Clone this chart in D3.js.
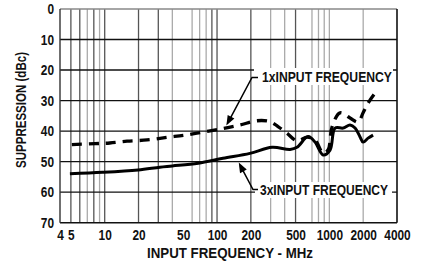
<!DOCTYPE html>
<html><head><meta charset="utf-8">
<script src="https://cdn.jsdelivr.net/npm/d3@7"></script>
<style>
body{margin:0;background:#fff}
svg{display:block}
text{font-family:"Liberation Sans","Arial",sans-serif;font-weight:bold;fill:#111}
</style>
</head><body><svg id="c" width="434" height="267"></svg>
<script>
// ---- data ----
const yTicks = [0, 10, 20, 30, 40, 50, 60, 70];
const xTickLabels = [4, 5, 10, 20, 50, 100, 200, 500, 1000, 2000, 4000];
const xGrid = [5, 6, 7, 8, 9, 10, 20, 30, 40, 60, 70, 80, 90, 100, 200, 300, 400, 500, 700, 800, 900, 1000, 2000];
const xGridDark = [5, 6, 8, 10, 20, 30, 90, 100, 200, 500];

const freq1x = [5.1, 8.2, 11.1, 15.8, 23.8, 36.6, 51.9, 78, 115, 160, 227, 297, 349, 420, 515, 634, 745, 879, 973, 1057, 1245, 1528, 1802, 1997, 2213, 2555];
const supp1x = [44.4, 44.1, 43.9, 43.3, 42.9, 42.0, 41.3, 40.2, 39.1, 38.0, 36.6, 36.9, 38.5, 40.7, 43.2, 42.0, 42.9, 47.2, 46.2, 38.6, 34.0, 35.7, 37.0, 34.0, 30.8, 27.5];

const freq3x = [4.9, 9.6, 19.8, 31, 40, 68, 113, 196, 309, 447, 515, 646, 745, 879, 1014, 1124, 1325, 1528, 1694, 1876, 1997, 2213, 2450];
const supp3x = [54.0, 53.5, 52.7, 51.8, 51.4, 50.5, 48.9, 47.3, 45.3, 46.0, 45.3, 41.8, 43.6, 47.8, 46.2, 39.0, 39.0, 38.0, 39.0, 41.9, 43.6, 42.3, 41.3];

const labelTexts = ["1xINPUT FREQUENCY", "3xINPUT FREQUENCY"];
const yTitle = "SUPPRESSION (dBc)";
const xTitle = "INPUT FREQUENCY - MHz";

// ---- layout ----
const L = 60, R = 397, T = 9, B = 222.7;
const svg = d3.select("#c");
const x = d3.scaleLog().domain([4, 4000]).range([L, R]);
const y = d3.scaleLinear().domain([0, 70]).range([T, B]);

// vertical grid
svg.append("g").selectAll("line").data(xGrid).join("line")
  .attr("x1", d => x(d)).attr("x2", d => x(d))
  .attr("y1", T).attr("y2", B)
  .attr("stroke", d => xGridDark.includes(d) ? "#555" : "#aaa")
  .attr("stroke-width", 1.3);

// horizontal grid
svg.append("g").selectAll("line").data(yTicks.slice(1, -1)).join("line")
  .attr("x1", L).attr("x2", R)
  .attr("y1", d => y(d)).attr("y2", d => y(d))
  .attr("stroke", "#111").attr("stroke-width", 1.4);

// frame
svg.append("line").attr("x1", L).attr("x2", R).attr("y1", T).attr("y2", T).attr("stroke", "#888").attr("stroke-width", 1.3);
svg.append("line").attr("x1", L).attr("x2", R).attr("y1", B).attr("y2", B).attr("stroke", "#111").attr("stroke-width", 1.5);
svg.append("line").attr("x1", L).attr("x2", L).attr("y1", T).attr("y2", B).attr("stroke", "#333").attr("stroke-width", 1.4);
svg.append("line").attr("x1", R).attr("x2", R).attr("y1", T).attr("y2", B).attr("stroke", "#111").attr("stroke-width", 1.6);

// label boxes (mask grid)
const boxes = [[254, 68, 139, 17], [255, 182, 137, 16]];
svg.append("g").selectAll("rect").data(boxes).join("rect")
  .attr("x", d => d[0]).attr("y", d => d[1]).attr("width", d => d[2]).attr("height", d => d[3])
  .attr("fill", "#fff");

// curves
const line = d3.line().x(d => x(d[0])).y(d => y(d[1])).curve(d3.curveCatmullRom.alpha(0.5));
svg.append("path").datum(d3.zip(freq3x, supp3x)).attr("d", line)
  .attr("fill", "none").attr("stroke", "#000").attr("stroke-width", 3).attr("stroke-linejoin", "round");
svg.append("path").datum(d3.zip(freq1x, supp1x)).attr("d", line)
  .attr("fill", "none").attr("stroke", "#000").attr("stroke-width", 3.3)
  .attr("stroke-dasharray", "10,7").attr("stroke-linecap", "butt");

// axes
const yAxis = svg.append("g").attr("transform", `translate(${L},0)`)
  .call(d3.axisLeft(y).tickValues(yTicks).tickSize(0).tickPadding(6).tickFormat(d => d));
const xAxis = svg.append("g").attr("transform", `translate(0,${B})`)
  .call(d3.axisBottom(x).tickValues(xTickLabels).tickSize(0).tickPadding(7).tickFormat(d => d));
[yAxis, xAxis].forEach(a => {
  a.select(".domain").remove();
  a.selectAll("text").attr("font-size", 14).attr("font-family", null).attr("fill", "#111")
    .attr("textLength", d => String(d).length * 6.6).attr("lengthAdjust", "spacingAndGlyphs");
});

// titles
svg.append("text").attr("transform", "translate(26,110) rotate(-90)")
  .attr("text-anchor", "middle").attr("font-size", 14)
  .attr("textLength", 116).attr("lengthAdjust", "spacingAndGlyphs").text(yTitle);
svg.append("text").attr("x", 147).attr("y", 258).attr("font-size", 14)
  .attr("textLength", 166).attr("lengthAdjust", "spacingAndGlyphs").text(xTitle);

// annotations
svg.append("text").attr("x", 262).attr("y", 82).attr("font-size", 14)
  .attr("textLength", 130).attr("lengthAdjust", "spacingAndGlyphs").text(labelTexts[0]);
svg.append("text").attr("x", 260).attr("y", 194.5).attr("font-size", 14)
  .attr("textLength", 128).attr("lengthAdjust", "spacingAndGlyphs").text(labelTexts[1]);

function leader(pts, tip) {
  const all = pts.concat([tip]);
  const p = all[all.length - 2];
  const ang = Math.atan2(tip[1] - p[1], tip[0] - p[0]);
  const len = 10, hw = 3.8;
  const bx = tip[0] - len * Math.cos(ang), by = tip[1] - len * Math.sin(ang);
  svg.append("path").attr("d", d3.line()(all.slice(0, -1).concat([[bx + 2 * Math.cos(ang), by + 2 * Math.sin(ang)]])))
    .attr("fill", "none").attr("stroke", "#000").attr("stroke-width", 1.5);
  const nx = -Math.sin(ang), ny = Math.cos(ang);
  svg.append("path").attr("d", `M${tip[0]},${tip[1]}L${bx + hw * nx},${by + hw * ny}L${bx - hw * nx},${by - hw * ny}Z`)
    .attr("fill", "#000");
}
leader([[258, 77.5], [252, 77.5]], [x(121), y(38.2)]);
leader([[258, 189.5], [253, 189.5]], [x(156), y(50.3)]);
</script>
</body></html>
